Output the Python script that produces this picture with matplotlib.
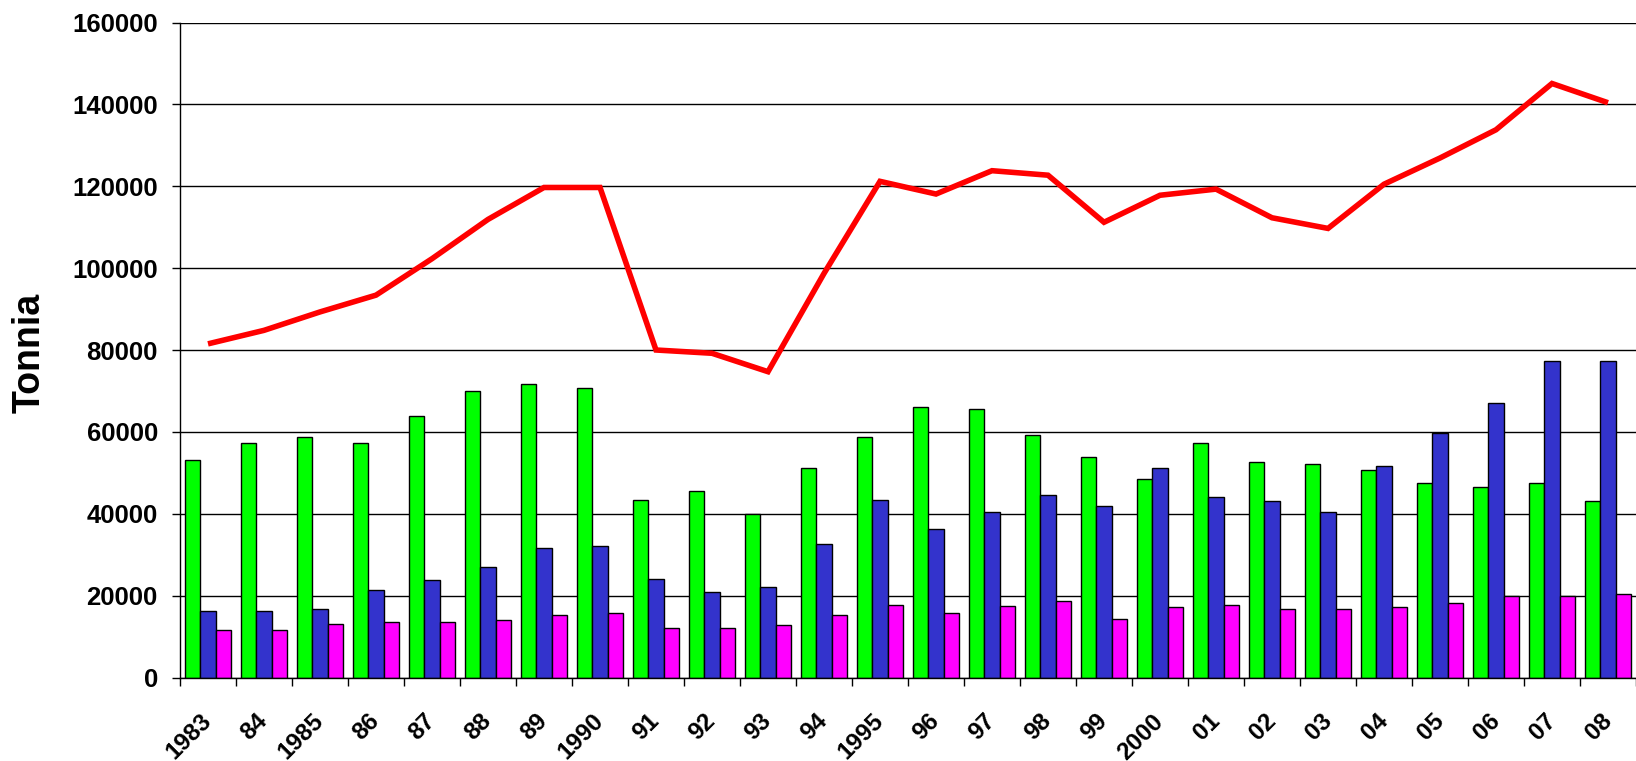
import matplotlib
matplotlib.use("Agg")
import matplotlib.pyplot as plt
from matplotlib.transforms import ScaledTranslation
import numpy as np

plt.rcParams['font.family'] = ['Liberation Sans', 'DejaVu Sans']

years = ["1983", "84", "1985", "86", "87", "88", "89", "1990", "91", "92", "93", "94",
         "1995", "96", "97", "98", "99", "2000", "01", "02", "03", "04", "05", "06", "07", "08"]

green = [53100, 57300, 58800, 57300, 64000, 70000, 71700, 70700, 43400, 45600, 39900, 51200,
         58800, 66000, 65500, 59300, 53800, 48500, 57300, 52700, 52100, 50700, 47600, 46600, 47600, 43100]
blue = [16200, 16200, 16700, 21300, 23800, 27000, 31600, 32200, 24000, 20900, 22000, 32700,
        43400, 36300, 40400, 44500, 41900, 51100, 44000, 43100, 40500, 51700, 59800, 67100, 77200, 77200]
magenta = [11600, 11600, 13100, 13600, 13600, 14100, 15200, 15800, 12200, 12200, 12800, 15300,
           17800, 15800, 17400, 18800, 14300, 17200, 17800, 16700, 16700, 17200, 18300, 19900, 19900, 20400]
total = [81500, 84800, 89300, 93400, 102300, 111900, 119700, 119700, 80000, 79200, 74700, 98700,
         121200, 118100, 123800, 122700, 111200, 117800, 119300, 112300, 109700, 120500, 126900,
         133800, 145100, 140400]

yticks = [0, 20000, 40000, 60000, 80000, 100000, 120000, 140000, 160000]

W, H = 1636, 761
fig = plt.figure(figsize=(W / 100, H / 100), dpi=100)
left_px, bottom_px, top_px = 180, 677.5, 22.5
ax = fig.add_axes([left_px / W, (H - bottom_px) / H, (W - left_px) / W, (bottom_px - top_px) / H])

x = np.arange(len(years))
bw = 0.27
common = dict(width=bw, edgecolor='black', linewidth=1.0, zorder=2)
ax.bar(x - bw, green, color='#00FF00', **common)
ax.bar(x, blue, color='#3333CC', **common)
ax.bar(x + bw, magenta, color='#FF00FF', **common)
ax.plot(x, total, color='#FF0000', linewidth=4, zorder=3, solid_capstyle='butt', solid_joinstyle='miter')

cat_w = 56.36
ax.set_xlim(-0.5, -0.5 + (W - left_px) / cat_w)
ax.set_ylim(0, 160000)

ax.set_yticks(yticks)
ax.set_yticklabels([str(v) for v in yticks], fontsize=18.5, fontweight='bold')
ax.yaxis.grid(True, color='black', linewidth=1.0, zorder=0)
ax.set_axisbelow(True)
ax.tick_params(axis='y', direction='out', length=6, width=1, pad=10)

ax.set_xticks(x)
ax.set_xticklabels(years, fontsize=17.5, fontweight='bold')
shift = ScaledTranslation(-4 / 100, -1 / 100, fig.dpi_scale_trans)
for lab in ax.get_xticklabels():
    lab.set_rotation(45)
    lab.set_ha('right')
    lab.set_va('center')
    lab.set_rotation_mode('anchor')
    lab.set_transform(lab.get_transform() + shift)
ax.tick_params(axis='x', which='major', length=0, pad=29)
ax.set_xticks(np.arange(-0.5, len(years), 1), minor=True)
ax.tick_params(axis='x', which='minor', direction='out', length=6, width=1)

for s in ['top', 'right']:
    ax.spines[s].set_visible(False)
ax.spines['left'].set_linewidth(1.0)
ax.spines['bottom'].set_linewidth(1.0)

fig.text(30 / W, 1 - 353 / H, "Tonnia", rotation=90, ha='center', va='center',
         fontsize=27, fontweight='bold')

fig.savefig("out.png", dpi=100)
